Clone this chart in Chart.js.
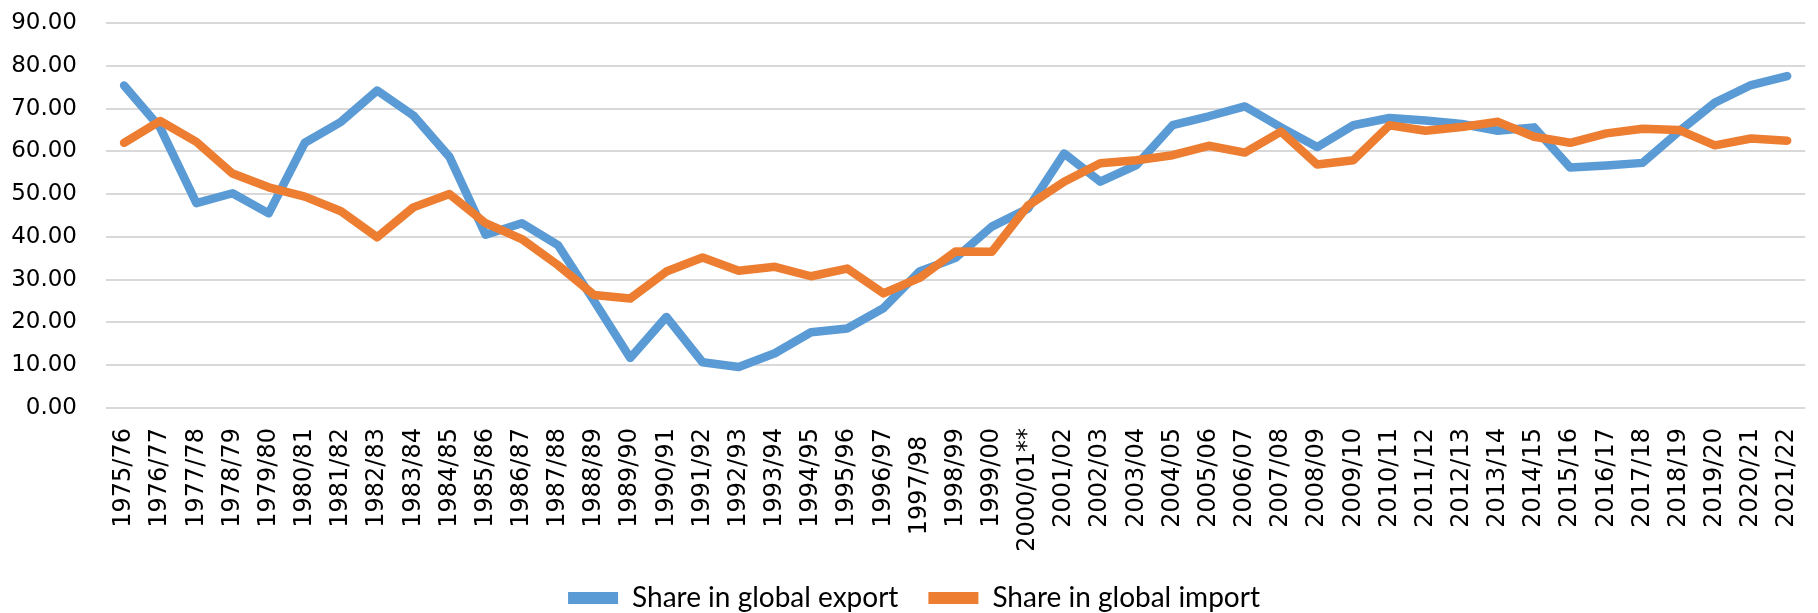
<!DOCTYPE html>
<html>
<head>
<meta charset="utf-8">
<script src="https://cdn.jsdelivr.net/npm/chart.js@4/dist/chart.umd.min.js"></script>
<style>
  html, body { margin: 0; padding: 0; background: #fff; }
  #wrap { width: 1818px; height: 613px; }
</style>
</head>
<body>
<div id="wrap"><canvas id="chart" width="1818" height="613"></canvas></div>
<script>
// Share in global export / import, by season

const seasons = [
    '1975/76', '1976/77', '1977/78', '1978/79', '1979/80', '1980/81', '1981/82', '1982/83',
    '1983/84', '1984/85', '1985/86', '1986/87', '1987/88', '1988/89', '1989/90', '1990/91',
    '1991/92', '1992/93', '1993/94', '1994/95', '1995/96', '1996/97', '1997/98 ', '1998/99',
    '1999/00', '2000/01**', '2001/02', '2002/03', '2003/04', '2004/05', '2005/06', '2006/07',
    '2007/08', '2008/09', '2009/10', '2010/11', '2011/12', '2012/13', '2013/14', '2014/15',
    '2015/16', '2016/17', '2017/18', '2018/19', '2019/20', '2020/21', '2021/22'
];

const exportShare = [
    75.4, 65.5, 47.9, 50.2, 45.5, 62.0, 66.9, 74.2, 68.4, 58.7, 40.5, 43.2, 38.1, 25.0, 11.7, 21.3,
    10.7, 9.6, 12.8, 17.7, 18.6, 23.3, 31.9, 35.1, 42.4, 46.6, 59.5, 52.9, 56.8, 66.1, 68.2, 70.5,
    65.6, 61.0, 66.1, 67.8, 67.2, 66.4, 64.8, 65.6, 56.2, 56.7, 57.3, 64.6, 71.4, 75.5, 77.6
];

const importShare = [
    62.0, 67.1, 62.2, 54.8, 51.6, 49.4, 46.0, 39.9, 46.9, 50.0, 43.2, 39.5, 33.4, 26.4, 25.6, 31.9,
    35.2, 32.1, 33.0, 30.8, 32.6, 26.8, 30.4, 36.6, 36.5, 47.3, 52.9, 57.2, 57.9, 59.1, 61.3, 59.7,
    64.6, 56.9, 57.9, 66.1, 64.8, 65.7, 66.9, 63.4, 62.0, 64.2, 65.3, 65.0, 61.4, 63.0, 62.5
];

const BLUE = '#5B9BD5';
const ORANGE = '#ED7D31';
const GRID = '#D9D9D9';
const TICK_FONT = { family: 'DejaVu Sans', size: 24 };
const LEGEND_FONT = { family: 'Lato', size: 28 };

function lineSet(label, data, color, order) {
    return {
        label,
        data,
        borderColor: color,
        backgroundColor: color,
        borderWidth: 8.5,
        borderCapStyle: 'round',
        borderJoinStyle: 'round',
        pointRadius: 0,
        tension: 0,
        order
    };
}

new Chart(document.getElementById('chart'), {
    type: 'line',
    data: {
        labels: seasons,
        datasets: [
            lineSet('Share in global export', exportShare, BLUE, 2),
            lineSet('Share in global import', importShare, ORANGE, 1)
        ]
    },
    options: {
        responsive: false,
        animation: false,
        events: [],
        layout: { padding: { top: 23, right: 2, left: 12, bottom: -9 } },
        plugins: {
            tooltip: { enabled: false },
            legend: {
                position: 'bottom',
                labels: {
                    font: LEGEND_FONT,
                    color: '#000',
                    usePointStyle: true,
                    pointStyle: 'line',
                    pointStyleWidth: 50,
                    padding: 30,
                    sort: (a, b) => a.datasetIndex - b.datasetIndex,
                    generateLabels: chart => {
                        const items = Chart.defaults.plugins.legend.labels.generateLabels(chart);
                        items.forEach(it => { it.lineWidth = 12; });
                        return items;
                    }
                }
            }
        },
        scales: {
            x: {
                offset: true,
                // invisible tick marks only push the labels away from the axis
                grid: {
                    drawOnChartArea: false,
                    drawTicks: true,
                    tickLength: 18,
                    tickColor: 'rgba(0,0,0,0)'
                },
                border: { display: false },
                ticks: {
                    font: TICK_FONT,
                    color: '#000',
                    maxRotation: 90,
                    minRotation: 90,
                    autoSkip: false,
                    padding: 2
                },
                afterFit: scale => { scale.height = 146; }
            },
            y: {
                min: 0,
                max: 90,
                grid: {
                    color: GRID,
                    lineWidth: 2,
                    drawTicks: true,
                    tickLength: 27,
                    tickColor: 'rgba(0,0,0,0)'
                },
                border: { display: false },
                ticks: {
                    stepSize: 10,
                    font: { family: 'DejaVu Sans', size: 23 },
                    color: '#000',
                    padding: 2,
                    callback: v => v.toFixed(2)
                },
                afterFit: scale => { scale.width = 94; }
            }
        }
    }
});
</script>
</body>
</html>
